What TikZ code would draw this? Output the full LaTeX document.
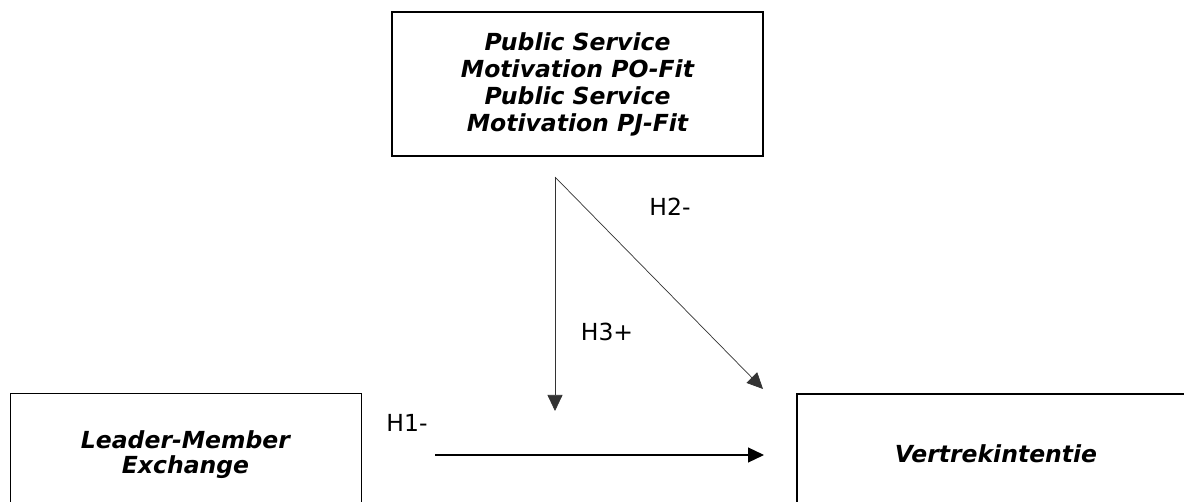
\documentclass[tikz,border=0pt]{standalone}
\usepackage{fontspec}
\setmainfont{DejaVu Sans}
\usetikzlibrary{arrows.meta}
\tikzset{
  boxthick/.style={draw, line width=2pt, align=center, inner sep=0pt, font=\fontsize{23.5}{27}\selectfont\bfseries\itshape},
  boxthin/.style={draw, line width=1pt, align=center, inner sep=0pt, font=\fontsize{23.5}{25}\selectfont\bfseries\itshape},
  conn/.style={line width=1.2pt, -{Triangle[length=16pt,width=15pt]}},
  thinconn/.style={line width=0.7pt, draw=black!80, -{Triangle[length=16pt,width=15pt]}},
  hlabel/.style={font=\fontsize{23.5}{26}\selectfont, inner sep=0pt}
}
\begin{document}
\begin{tikzpicture}[x=1pt,y=-1pt]
\clip (0,0) rectangle (1184,502);
\fill[white] (0,0) rectangle (1184,502);
\node[boxthick, minimum width=371pt, minimum height=144pt] (mod) at (577.5,84)
  {Public Service\\Motivation PO-Fit\\Public Service\\Motivation PJ-Fit};
\node[boxthin, minimum width=351pt, minimum height=122pt] (lmx) at (185.5,455)
  {Leader-Member\\Exchange};
\node[boxthick, minimum width=398pt, minimum height=120pt] (vi) at (996,454)
  {Vertrekintentie};
\coordinate (split) at (555,177);
\coordinate (h3end) at (555,411);
\coordinate (h2end) at (763,389);
\coordinate (h1start) at (435,455);
\coordinate (h1end) at (764,455);
\draw[thinconn] (split) -- (h3end);
\draw[thinconn] (split) -- (h2end);
\draw[conn] (h1start) -- (h1end);
\node[hlabel] (h2) at (670,207) {H2-};
\node[hlabel] (h3) at (607,332) {H3+};
\node[hlabel] (h1) at (407,423) {H1-};
\end{tikzpicture}
\end{document}
